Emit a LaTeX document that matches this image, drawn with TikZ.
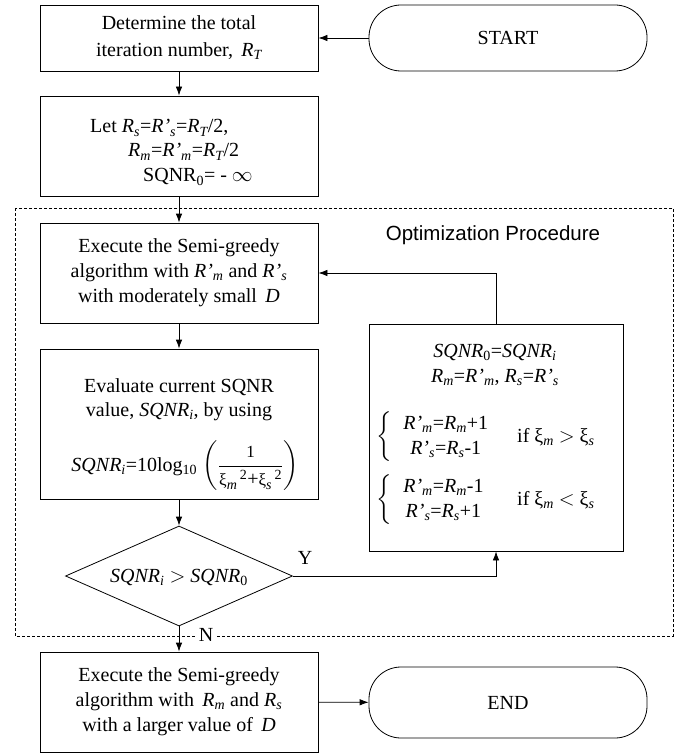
\documentclass[tikz,border=0pt]{standalone}
\usepackage{amsmath}
\usepackage{fontspec}
\setmainfont{Liberation Serif}
\newfontfamily\arialf{Liberation Sans}
\usetikzlibrary{shapes.geometric,arrows.meta}
\newcommand{\I}[1]{\textit{#1}}
\newcommand{\xx}{\textup{ξ}}
\begin{document}
\begin{tikzpicture}[x=1pt,y=-1pt,
  font=\fontsize{20}{25}\selectfont,
  box/.style={draw, line width=0.8pt, minimum width=278pt, inner sep=0pt, align=center},
  term/.style={draw, line width=0.8pt, minimum width=278pt, rounded corners=32pt, inner sep=0pt},
  arr/.style={-{Latex[length=9pt,width=6.5pt]}, line width=0.8pt},
  lab/.style={inner sep=0pt}]
\useasboundingbox (0,0) rectangle (675,754);
% dashed region
\draw[line width=0.6pt, dash pattern=on 3pt off 2pt] (15,208) rectangle (673,636);
\node[lab, font=\arialf\fontsize{20.5}{24}\selectfont] (opt) at (493,235) {Optimization Procedure};
% boxes
\node[box, minimum height=66pt] (b1) at (179,38) {Determine the total\\[2pt]iteration number, \,$\I{R}_{\I{T}}$};
\node[term, minimum height=66pt] (start) at (508,38) {START};
\node[box, minimum height=100pt] (b2) at (179,146) {};
\node[lab, anchor=base west] (b2a) at (90,133) {Let $\I{R}_{\I{s}}$=$\I{R'}_{\I{s}}$=$\I{R}_{\I{T}}$/2,};
\node[lab, anchor=base west] (b2b) at (128,157) {$\I{R}_{\I{m}}$=$\I{R'}_{\I{m}}$=$\I{R}_{\I{T}}$/2};
\node[lab, anchor=base west] (b2c) at (143,182) {SQNR$_{\text{0}}$= - $\infty$};
\node[box, minimum height=100pt] (b3) at (179,273) {Execute the Semi-greedy\\algorithm with $\I{R'}_{\I{m}}$ and $\I{R'}_{\I{s}}$\\with moderately small \,\I{D}};
\node[box, minimum height=150pt] (b4) at (179,424) {};
\node[lab, anchor=base] (b4a) at (179,392) {Evaluate current SQNR};
\node[lab, anchor=base] (b4b) at (179,416) {value, \I{SQNR}$_{\I{i}}$, by using};
\node[lab] (b4c) at (185,466) {\I{SQNR}$_{\I{i}}$=10log$_{\text{10}}$\;$\biggl(\dfrac{\text{\fontsize{17}{18}\selectfont 1}}{{\text{\fontsize{17}{18}\selectfont\xx}_{\I{m}}}^{\,\text{2}}\text{+}{\text{\fontsize{17}{18}\selectfont\xx}_{\I{s}}}^{\,\text{2}}}\biggr)$};
\node[draw, line width=0.8pt, shape=diamond, minimum width=227pt, minimum height=100pt, inner sep=0pt] (dia) at (179,576) {};
\node[lab] (diat) at (179,577) {\I{SQNR}$_{\I{i}}$ $>$ \I{SQNR}$_{\text{0}}$};
\node[box, minimum height=100pt] (b5) at (179,702) {Execute the Semi-greedy\\algorithm with \,$\I{R}_{\I{m}}$ and $\I{R}_{\I{s}}$\\with a larger value of \,\I{D}};
\node[term, minimum height=71pt] (end) at (508,702.5) {END};
% right box
\node[draw, line width=0.8pt, minimum width=254pt, minimum height=227pt, inner sep=0pt] (rb) at (496,437.5) {};
\node[lab, anchor=base] (rba) at (495,357) {\I{SQNR}$_{\text{0}}$=\I{SQNR}$_{\I{i}}$};
\node[lab, anchor=base] (rbb) at (495,382) {$\I{R}_{\I{m}}$=$\I{R'}_{\I{m}}$, $\I{R}_{\I{s}}$=$\I{R'}_{\I{s}}$};
\node[lab, anchor=west] (g1) at (376,437) {$\left\{\begin{array}{@{\;\;}c@{}}\I{R'}_{\I{m}}\text{=}\I{R}_{\I{m}}\text{+1}\\ \I{R'}_{\I{s}}\text{=}\I{R}_{\I{s}}\text{-1}\end{array}\right.$};
\node[lab, anchor=west] (c1) at (517,437) {if \xx$_{\I{m}}$ $>$ \xx$_{\I{s}}$};
\node[lab, anchor=west] (g2) at (376,500) {$\left\{\begin{array}{@{\;\;}c@{}}\I{R'}_{\I{m}}\text{=}\I{R}_{\I{m}}\text{-1}\\ \I{R'}_{\I{s}}\text{=}\I{R}_{\I{s}}\text{+1}\end{array}\right.$};
\node[lab, anchor=west] (c2) at (517,500) {if \xx$_{\I{m}}$ $<$ \xx$_{\I{s}}$};
% connectors
\draw[arr] (start) -- (b1);
\draw[arr] (b1) -- (b2);
\draw[arr] (b2) -- (b3);
\draw[arr] (b3) -- (b4);
\draw[arr] (b4) -- (dia);
\draw[arr] (dia.south) -- (b5.north);
\draw[arr] (dia.east) -| (rb.south);
\draw[arr] (rb.north) |- (b3.east);
\draw[arr] (b5) -- (end);
\node[fill=white, inner sep=2pt] (nl) at (206,635) {N};
\node[lab] (yl) at (305,558) {Y};
\end{tikzpicture}
\end{document}
